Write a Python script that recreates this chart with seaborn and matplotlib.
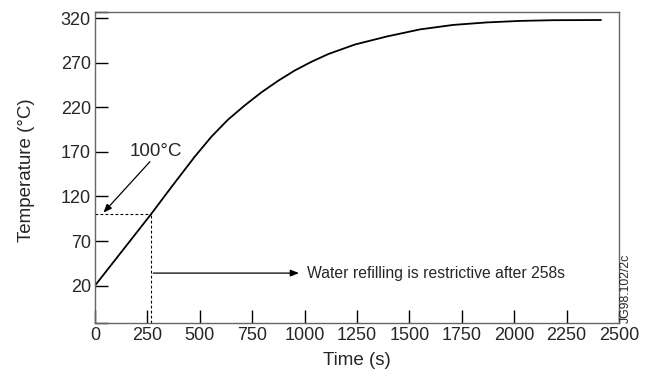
import matplotlib
matplotlib.use("Agg")
import matplotlib.pyplot as plt
import seaborn as sns
import pandas as pd

time_s = [0, 267, 366, 477, 557, 636, 716, 795, 875, 954, 1034, 1113, 1240, 1392, 1551, 1709, 1869, 2028, 2185, 2414]
temp_c = [20, 100, 131, 165, 187.5, 206.5, 222.5, 237, 250, 261.5, 271.3, 279.8, 290.5, 299.5, 307.5, 312.5, 315.3, 317, 317.8, 318]
x_ticks = [0, 250, 500, 750, 1000, 1250, 1500, 1750, 2000, 2250, 2500]
y_ticks = [20, 70, 120, 170, 220, 270, 320]
y_lo, y_hi = -22, 327
t_cross, T_cross = 267, 100

sns.set_style("ticks")
plt.rcParams['font.family'] = ['Liberation Sans', 'DejaVu Sans']

fig = plt.figure(figsize=(6.49, 3.76), dpi=100)
ax = fig.add_axes([95/649, 1-323/376, (619-95)/649, (323-12)/376])

df = pd.DataFrame({"Time (s)": time_s, "Temperature (°C)": temp_c})
sns.lineplot(data=df, x="Time (s)", y="Temperature (°C)", ax=ax, color="black", lw=1.3)

ax.set_xlim(0, 2500)
ax.set_ylim(y_lo, y_hi)
ax.set_xticks(x_ticks)
ax.set_xticklabels([str(v) for v in x_ticks])
ax.set_yticks([y_lo] + y_ticks + [y_hi])
ax.set_yticklabels([""] + [str(v) for v in y_ticks] + [""])
ax.tick_params(direction="in", length=9.4, width=1.0, color="black", labelsize=13, pad=3)

for s in ax.spines.values():
    s.set_visible(True)
    s.set_color("#666666")
    s.set_linewidth(1.0)

ax.set_xlabel("Time (s)", fontsize=13.5)
ax.set_ylabel("Temperature (°C)", fontsize=13.5)
ax.yaxis.set_label_coords(-0.114, 0.49)
ax.xaxis.set_label_coords(0.5, -0.093)

# dashed guides
ax.plot([0, t_cross], [T_cross, T_cross], ls=(0, (2.5, 2)), color="black", lw=0.8)
ax.plot([t_cross, t_cross], [y_lo, T_cross], ls=(0, (2.5, 2)), color="black", lw=0.8)

# annotations
ax.text(289, 170, "100°C", fontsize=13.6, ha="center", va="center")
ax.annotate("", xy=(40, 101.8), xytext=(262, 159),
            arrowprops=dict(arrowstyle="-|>,head_length=0.5,head_width=0.2", color="black", lw=0.9, shrinkA=0, shrinkB=0))
ax.annotate("", xy=(973, 34), xytext=(278, 34),
            arrowprops=dict(arrowstyle="-|>,head_length=0.5,head_width=0.2", color="black", lw=0.9, shrinkA=0, shrinkB=0))
ax.text(1010, 34, "Water refilling is restrictive after 258s", fontsize=11.3, ha="left", va="center")

fig.text(626/649, 1-323/376, "JG98.102/2c", rotation=90, fontsize=8.8, ha="center", va="bottom")

fig.savefig("out.png", dpi=100)
